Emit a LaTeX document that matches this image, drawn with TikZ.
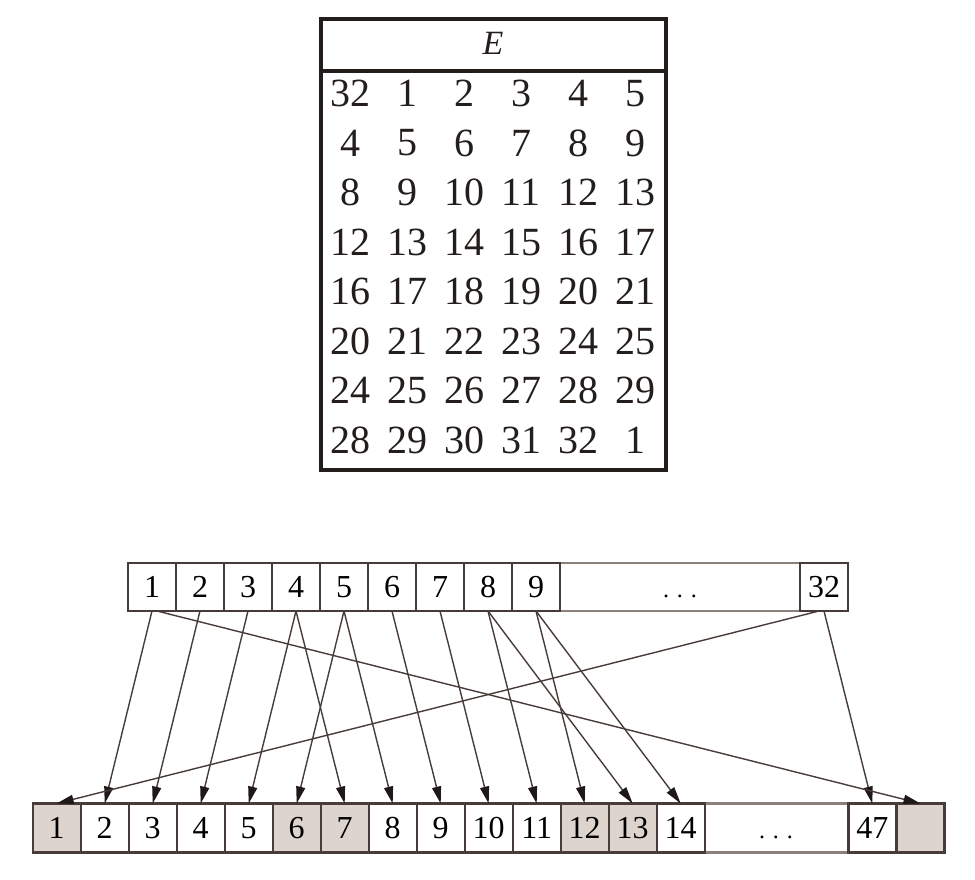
\documentclass[tikz,border=0pt]{standalone}
\usepackage{fontspec}
\setmainfont{Liberation Serif}
\usetikzlibrary{arrows.meta}
\definecolor{cellline}{RGB}{72,60,56}
\definecolor{dotline}{RGB}{140,128,122}
\definecolor{shade}{RGB}{221,213,205}
\definecolor{tabline}{RGB}{35,30,28}
\definecolor{tipfill}{RGB}{30,25,24}

\begin{document}
\begin{tikzpicture}[x=1pt,y=-1pt,
    cell/.style={draw=cellline,line width=2.4pt,minimum width=48pt,minimum height=48pt,
      inner sep=0pt,outer sep=0pt,text height=21.5pt,text depth=0pt,
      font=\fontsize{32}{32}\selectfont},
    dots/.style={cell,draw=dotline,font=\fontsize{24}{24}\selectfont},
    num/.style={inner sep=0pt,text=tabline,font=\fontsize{40}{40}\selectfont},
    link/.style={draw=cellline,line width=1.4pt,-{Triangle[length=17pt,width=9pt,color=tipfill]}}]
  \useasboundingbox (0,0) rectangle (975,880);

  % expansion table E
  \draw[tabline,line width=3.2pt] (321,19) rectangle (666,470);
  \draw[tabline,line width=3.2pt] (321,71) -- (666,71);
  \node[inner sep=0pt,text=tabline,font=\fontsize{34}{34}\selectfont\itshape] (etitle) at (493,43) {E};
  \foreach \r [count=\k] in {{32,1,2,3,4,5},{4,5,6,7,8,9},{8,9,10,11,12,13},
      {12,13,14,15,16,17},{16,17,18,19,20,21},{20,21,22,23,24,25},
      {24,25,26,27,28,29},{28,29,30,31,32,1}}
    \foreach \v [count=\c] in \r
      \node[num] (e\k-\c) at (293+57*\c,93.5+49.5*\k-49.5) {\v};

  % 32-bit input
  \node[dots,minimum width=240pt] (tdots) at (680,587) {. . .};
  \foreach \i in {1,...,9}
    \node[cell] (t\i) at (104+48*\i,587) {\i};
  \node[cell] (t32) at (824,587) {32};

  % 48-bit output
  \node[dots,minimum width=144pt,minimum height=49pt] (bdots) at (776,828) {. . .};
  \foreach \i/\c in {1/shade,2/white,3/white,4/white,5/white,6/shade,7/shade,
      8/white,9/white,10/white,11/white,12/shade,13/shade,14/white}
    \node[cell,fill=\c,minimum height=49pt] (b\i) at (8.7+48*\i,828) {\i};
  \node[cell,minimum height=49pt] (b47) at (872.3,828) {47};
  \node[cell,fill=shade,minimum height=49pt] (b48) at (920.5,828) {};

  % expansion wiring
  \foreach \s/\e in {1/2,2/3,3/4,4/5,4/7,5/6,5/8,6/9,7/10,8/11,8/13,9/12,9/14,32/47}
    \draw[link] (t\s.south) -- (b\e.north);
  \draw[link] ([xshift=5pt]t1.south) -- (b48.north);
  \draw[link] ([xshift=-5pt]t32.south) -- (b1.north);
\end{tikzpicture}
\end{document}
